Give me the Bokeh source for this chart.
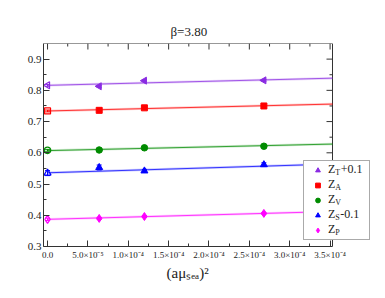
import math
from bokeh.plotting import figure
from bokeh.models import (ColumnDataSource, Whisker, TeeHead, FixedTicker,
                          Legend, LegendItem, Range1d, Title)
from bokeh.embed import file_html
from bokeh.resources import INLINE

# ---------------- data ----------------
x_vals = [0.0, 6.4e-5, 1.2e-4, 2.68e-4]      # first point: chiral extrapolation (open)
fit_x = [0.0, 3.53e-4]

zt_vals = [0.816, 0.813, 0.831, 0.832]
zt_errs = [0.003, 0.003, 0.003, 0.003]
zt_fit = [0.816, 0.839]

za_vals = [0.734, 0.736, 0.744, 0.750]
za_errs = [0.003, 0.002, 0.002, 0.003]
za_fit = [0.734, 0.756]

zv_vals = [0.608, 0.609, 0.616, 0.621]
zv_errs = [0.003, 0.002, 0.002, 0.003]
zv_fit = [0.607, 0.628]

zs_vals = [0.535, 0.553, 0.542, 0.562]
zs_errs = [0.008, 0.008, 0.005, 0.006]
zs_fit = [0.536, 0.564]

zp_vals = [0.387, 0.390, 0.396, 0.406]
zp_errs = [0.004, 0.003, 0.003, 0.003]
zp_fit = [0.387, 0.412]

x_ticks = [0.0, 5e-5, 1e-4, 1.5e-4, 2e-4, 2.5e-4, 3e-4, 3.5e-4]
x_tick_labels = ["0.0", "5.0×10⁻⁵", "1.0×10⁻⁴", "1.5×10⁻⁴", "2.0×10⁻⁴",
                 "2.5×10⁻⁴", "3.0×10⁻⁴", "3.5×10⁻⁴"]
x_minor = [2.5e-5, 7.5e-5, 1.25e-4, 1.75e-4, 2.25e-4, 2.75e-4, 3.25e-4]
y_ticks = [0.3, 0.4, 0.5, 0.6, 0.7, 0.8, 0.9]
y_tick_labels = ["0.3", "0.4", "0.5", "0.6", "0.7", "0.8", "0.9"]
y_minor = [0.35, 0.45, 0.55, 0.65, 0.75, 0.85]

title_text = "β=3.80"
xlabel_text = "(aμₛₑₐ)²"

series = [
    # main, subscript, suffix, values, errors, fit, colour, marker, angle, size
    ("Z", "T", "+0.1", zt_vals, zt_errs, zt_fit, "#8a2be2", "triangle", math.pi / 2, 7),
    ("Z", "A", "", za_vals, za_errs, za_fit, "#ff0000", "square", 0.0, 6),
    ("Z", "V", "", zv_vals, zv_errs, zv_fit, "#008b00", "circle", 0.0, 6.5),
    ("Z", "S", "-0.1", zs_vals, zs_errs, zs_fit, "#0000ff", "triangle", 0.0, 7),
    ("Z", "P", "", zp_vals, zp_errs, zp_fit, "#ff00ff", "diamond", 0.0, 8),
]

FONT = "Liberation Serif"
AX = "#333333"
TXT = "#222222"

# plotting box [X0, X1] x [Y0, Y1]; the frame is widened to the right so that the
# legend (which overhangs the box in the original) is not clipped
X0, X1 = -5e-6, 3.53e-4
Y0, Y1 = 0.3, 0.95
BOX_W = 289
FRAME_W = 330
FRAME_H = 203
XEND = X0 + (X1 - X0) * FRAME_W / BOX_W
PX = (X1 - X0) / BOX_W          # data units per pixel along x
PY = (Y1 - Y0) / FRAME_H

p = figure(frame_width=FRAME_W, frame_height=FRAME_H,
           min_border_left=43, min_border_right=10, min_border_top=43, min_border_bottom=50,
           x_range=Range1d(X0, XEND), y_range=Range1d(Y0, Y1),
           output_backend="svg", toolbar_location=None, title=None)
p.background_fill_color = "white"
p.border_fill_color = "white"
p.outline_line_color = None
p.grid.visible = False


def style_axis(ax):
    ax.axis_line_color = AX
    ax.major_tick_line_color = AX
    ax.minor_tick_line_color = AX
    ax.major_tick_in = 6
    ax.major_tick_out = 0
    ax.minor_tick_in = 3
    ax.minor_tick_out = 0
    ax.major_label_text_font = FONT
    ax.major_label_text_color = TXT


xt = FixedTicker(ticks=x_ticks, minor_ticks=x_minor)
yt = FixedTicker(ticks=y_ticks, minor_ticks=y_minor)

xa = p.xaxis[0]
xa.ticker = xt
xa.bounds = (X0, X1)
style_axis(xa)
xa.major_label_overrides = {t: l for t, l in zip(x_ticks, x_tick_labels)}
xa.major_label_text_font_size = "9px"
xa.major_label_standoff = 3

ya = p.yaxis[0]
ya.ticker = yt
style_axis(ya)
ya.major_label_overrides = {t: l for t, l in zip(y_ticks, y_tick_labels)}
ya.major_label_text_font_size = "11px"
ya.major_label_standoff = 2

# top edge of the box: line plus inward ticks
p.segment(x0=[X0], y0=[Y1], x1=[X1], y1=[Y1], line_color=AX, line_width=1)
p.segment(x0=x_ticks, y0=[Y1] * len(x_ticks), x1=x_ticks, y1=[Y1 - 6 * PY] * len(x_ticks),
          line_color=AX, line_width=1)
p.segment(x0=x_minor, y0=[Y1] * len(x_minor), x1=x_minor, y1=[Y1 - 3 * PY] * len(x_minor),
          line_color=AX, line_width=1)
# right edge of the box: line plus inward ticks
p.segment(x0=[X1], y0=[Y0], x1=[X1], y1=[Y1], line_color=AX, line_width=1)
p.segment(x0=[X1] * len(y_ticks), y0=y_ticks, x1=[X1 - 6 * PX] * len(y_ticks), y1=y_ticks,
          line_color=AX, line_width=1)
p.segment(x0=[X1] * len(y_minor), y0=y_minor, x1=[X1 - 3 * PX] * len(y_minor), y1=y_minor,
          line_color=AX, line_width=1)

legend_items = []
for main, sub, suf, vals, errs, fit, col, mk, ang, sz in series:
    band_lo = [f - 0.004 for f in fit]
    band_hi = [f + 0.004 for f in fit]
    p.varea(x=fit_x, y1=band_lo, y2=band_hi, fill_color=col, fill_alpha=0.2)
    p.line(x=fit_x, y=fit, line_color=col, line_width=1, line_alpha=0.75)
    src = ColumnDataSource(dict(x=x_vals, y=vals,
                                lo=[v - e for v, e in zip(vals, errs)],
                                hi=[v + e for v, e in zip(vals, errs)]))
    wh = Whisker(source=src, base="x", upper="hi", lower="lo", dimension="height",
                 line_color=col, line_width=1,
                 upper_head=TeeHead(size=5, line_color=col, line_width=1),
                 lower_head=TeeHead(size=5, line_color=col, line_width=1))
    p.add_layout(wh)
    open_src = ColumnDataSource(dict(x=x_vals[:1], y=vals[:1]))
    fill_src = ColumnDataSource(dict(x=x_vals[1:], y=vals[1:]))
    p.scatter("x", "y", source=open_src, marker=mk, angle=ang, size=sz,
              fill_color="white", fill_alpha=0.0, line_color=col, line_width=1.2)
    r = p.scatter("x", "y", source=fill_src, marker=mk, angle=ang, size=sz,
                  fill_color=col, line_color=col)
    legend_items.append(LegendItem(label=" ", renderers=[r]))

legend = Legend(items=legend_items, location=(260, 6), padding=3, spacing=3,
                glyph_width=21, glyph_height=12, label_height=12, label_width=37,
                label_standoff=1, label_text_font_size="6px", margin=0,
                border_line_color="#555555", border_line_width=1,
                background_fill_color="white", background_fill_alpha=1.0)
p.add_layout(legend)

# invisible renderer used only to carry free-floating text legends
dummy = p.scatter(x=[-1.0], y=[-1.0], size=0, fill_alpha=0, line_alpha=0)

H = 20


def text_at(txt, x, y_mid, size):
    lg = Legend(items=[LegendItem(label=txt, renderers=[dummy])],
                location=(x, y_mid - H / 2), padding=0, spacing=0, margin=0,
                glyph_width=0, glyph_height=H, label_height=H, label_width=1,
                label_standoff=0, label_text_font=FONT, label_text_font_size=size,
                label_text_color=TXT, label_text_baseline="middle",
                border_line_color=None, background_fill_alpha=0.0)
    p.add_layout(lg)


# legend texts with subscripts
sub_w = {"T": 4.9, "A": 5.8, "V": 5.8, "S": 4.4, "P": 4.4}
for i, (main, sub, suf, *_rest) in enumerate(series):
    yc = 6 + 3 + (len(series) - 1 - i) * 15 + 6 + 1.5
    x0 = 260 + 25
    text_at(main, x0, yc, "12px")
    text_at(sub, x0 + 7.3, yc - 3, "8px")
    if suf:
        text_at(suf, x0 + 7.3 + sub_w[sub] + 0.5, yc, "12px")

# title and x-axis label
p.add_layout(Title(text=title_text, align="left", offset=127, text_font=FONT,
                   text_font_size="13px", text_font_style="normal", text_color=TXT,
                   standoff=9), "above")
p.add_layout(Title(text=xlabel_text, align="left", offset=123, text_font=FONT,
                   text_font_size="15px", text_font_style="normal", text_color=TXT,
                   standoff=0), "below")

open("out.html", "w").write(file_html(p, INLINE))
